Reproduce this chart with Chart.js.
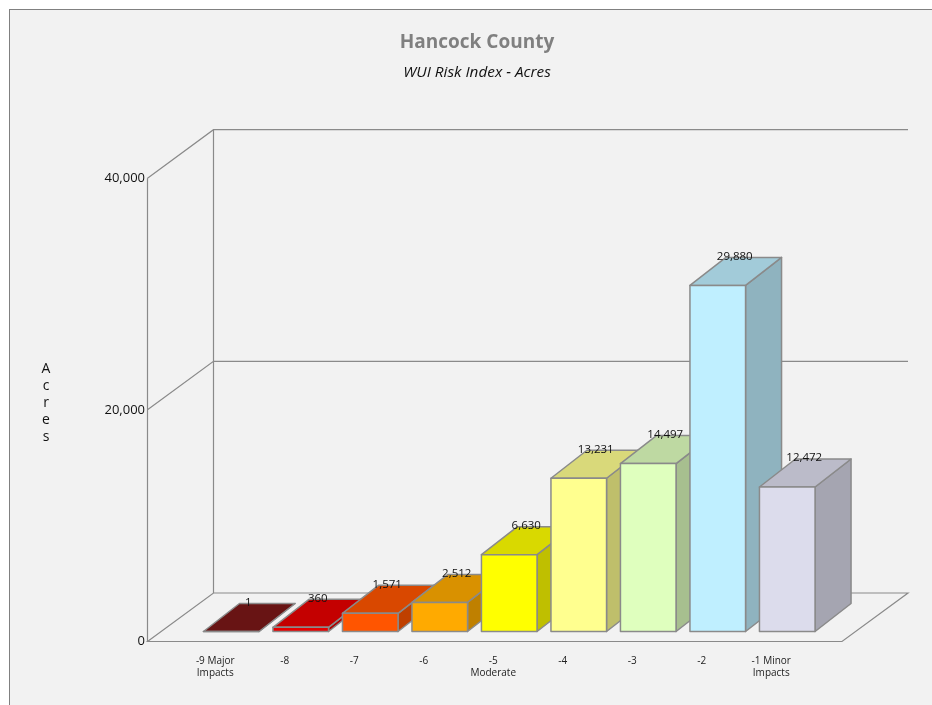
<!DOCTYPE html>
<html>
<head>
<meta charset="utf-8">
<title>Hancock County</title>
<script src="https://cdn.jsdelivr.net/npm/chart.js@4"></script>
<style>
  html, body { margin: 0; padding: 0; background: #fff; overflow: hidden; }
  #panel { position: absolute; left: 9px; top: 9px; width: 940px; height: 720px; background: #f2f2f2; border: 1px solid #808080; }
  #wrap { position: absolute; left: 0; top: 0; width: 954px; height: 705px; }
</style>
</head>
<body>
<div id="panel"></div>
<div id="wrap"><canvas id="grafico"></canvas></div>
<script>
const categorias = [["-9 Major", "Impacts"], "-8", "-7", "-6", ["-5", "Moderate"], "-4", "-3", "-2", ["-1 Minor", "Impacts"]];
const acres = [1, 360, 1571, 2512, 6630, 13231, 14497, 29880, 12472];
const yTicks = [0, 20000, 40000];
const cores = ["#7a1818", "#e60000", "#ff5500", "#ffaa00", "#ffff00", "#ffff8f", "#dfffbe", "#bfefff", "#dcdcec"];
const tituloEixo = ["A", "c", "r", "e", "s"];

const LINHA = "#8a8a8a";
const FONTE = "'Open Sans', sans-serif";

// profundidade da barra e deslocamento dela em relacao ao eixo
const BARRA_DX = 36, BARRA_DY = -28;
const DESLOC_X = 16, DESLOC_Y = -10;
// profundidade das paredes
const PAREDE_DX = 66, PAREDE_DY = -48.5;

function escurecer(hex, f) {
  const n = parseInt(hex.slice(1), 16);
  const r = Math.round((n >> 16) * f), g = Math.round(((n >> 8) & 255) * f), b = Math.round((n & 255) * f);
  return `rgb(${r},${g},${b})`;
}

function poligono(ctx, pts, fill) {
  ctx.beginPath();
  pts.forEach((p, i) => i ? ctx.lineTo(p[0], p[1]) : ctx.moveTo(p[0], p[1]));
  ctx.closePath();
  if (fill) { ctx.fillStyle = fill; ctx.fill(); }
  ctx.stroke();
}

// =========================
// BARRA 3D
// =========================
class Barra3D extends Chart.BarElement {
  static id = "barra3d";
  draw(ctx) {
    const esq = this.x - this.width / 2, dir = this.x + this.width / 2;
    const cor = this.options.backgroundColor;
    ctx.save();
    ctx.translate(DESLOC_X, DESLOC_Y);
    ctx.strokeStyle = LINHA;
    ctx.lineWidth = 1.5;
    ctx.lineJoin = "round";
    poligono(ctx, [[dir, this.y], [dir + BARRA_DX, this.y + BARRA_DY], [dir + BARRA_DX, this.base + BARRA_DY], [dir, this.base]], escurecer(cor, 0.75));
    poligono(ctx, [[esq, this.y], [esq + BARRA_DX, this.y + BARRA_DY], [dir + BARRA_DX, this.y + BARRA_DY], [dir, this.y]], escurecer(cor, 0.85));
    poligono(ctx, [[esq, this.y], [dir, this.y], [dir, this.base], [esq, this.base]], cor);
    ctx.restore();
  }
}

class Controlador3D extends Chart.BarController {
  static id = "barra3d";
  static defaults = { dataElementType: "barra3d" };
}

Chart.register(Barra3D, Controlador3D);

// =========================
// PAREDES, ROTULOS
// =========================
const cena3d = {
  id: "cena3d",
  beforeDatasetsDraw(chart) {
    const { ctx, scales: { x, y } } = chart;
    const esq = x.left - 33, dir = x.right + 36;
    const y0 = y.getPixelForValue(yTicks[0]);
    const topo = y.getPixelForValue(yTicks[yTicks.length - 1]);
    ctx.save();
    ctx.strokeStyle = LINHA;
    ctx.lineWidth = 1.2;
    poligono(ctx, [[esq, y0], [esq + PAREDE_DX, y0 + PAREDE_DY], [dir + PAREDE_DX, y0 + PAREDE_DY], [dir, y0]]);
    ctx.beginPath();
    ctx.moveTo(esq, y0);
    ctx.lineTo(esq, topo);
    ctx.moveTo(esq + PAREDE_DX, y0 + PAREDE_DY);
    ctx.lineTo(esq + PAREDE_DX, topo + PAREDE_DY);
    yTicks.slice(1).forEach(v => {
      const py = y.getPixelForValue(v);
      ctx.moveTo(esq, py);
      ctx.lineTo(esq + PAREDE_DX, py + PAREDE_DY);
      ctx.lineTo(dir + PAREDE_DX, py + PAREDE_DY);
    });
    ctx.stroke();
    ctx.restore();
  },
  afterDatasetsDraw(chart) {
    const { ctx } = chart;
    const meta = chart.getDatasetMeta(0);
    ctx.save();
    ctx.fillStyle = "#111";
    ctx.font = `11.5px ${FONTE}`;
    ctx.textAlign = "center";
    ctx.textBaseline = "middle";
    meta.data.forEach((el, i) => {
      ctx.fillText(acres[i].toLocaleString("en-US"), el.x + DESLOC_X + BARRA_DX / 2 - 1, el.y + DESLOC_Y + BARRA_DY - 1);
    });
    // titulo do eixo, uma letra por linha
    ctx.font = `14px ${FONTE}`;
    tituloEixo.forEach((letra, i) => ctx.fillText(letra, 46, 369 + i * 17));
    ctx.restore();
  }
};

new Chart(document.getElementById("grafico"), {
  type: "barra3d",
  data: {
    labels: categorias,
    datasets: [{
      label: "Acres",
      data: acres,
      backgroundColor: cores,
      barPercentage: 0.8,
      categoryPercentage: 1,
      clip: false
    }]
  },
  plugins: [cena3d],
  options: {
    responsive: true,
    maintainAspectRatio: false,
    animation: false,
    plugins: {
      legend: { display: false },
      tooltip: { enabled: false },
      title: {
        display: true,
        text: "Hancock County",
        color: "#808080",
        font: { family: FONTE, size: 19, weight: "bold" },
        padding: { top: 31, bottom: 6 }
      },
      subtitle: {
        display: true,
        text: "WUI Risk Index - Acres",
        color: "#111",
        font: { family: FONTE, size: 15.3, style: "italic" },
        padding: { top: 4, bottom: 96 }
      }
    },
    scales: {
      x: {
        grid: { display: false },
        border: { display: false },
        afterFit(s) { s.height = 63.5; },
        ticks: {
          color: "#222",
          font: { family: FONTE, size: 10, lineHeight: 1.25 },
          padding: 5,
          maxRotation: 0,
          autoSkip: false
        }
      },
      y: {
        min: yTicks[0],
        max: yTicks[yTicks.length - 1],
        grid: { display: false },
        border: { display: false },
        afterBuildTicks(s) { s.ticks = yTicks.map(v => ({ value: v })); },
        afterFit(s) { s.width = 180.5; },
        ticks: {
          color: "#111",
          font: { family: FONTE, size: 13 },
          padding: 27.5,
          callback: v => v.toLocaleString("en-US")
        }
      },
      // eixo vazio so para reservar a margem direita, mantendo o titulo centrado
      margemDireita: {
        position: "right",
        grid: { display: false },
        border: { display: false },
        ticks: { display: false },
        afterFit(s) { s.width = 148; }
      }
    }
  }
});
</script>
</body>
</html>
